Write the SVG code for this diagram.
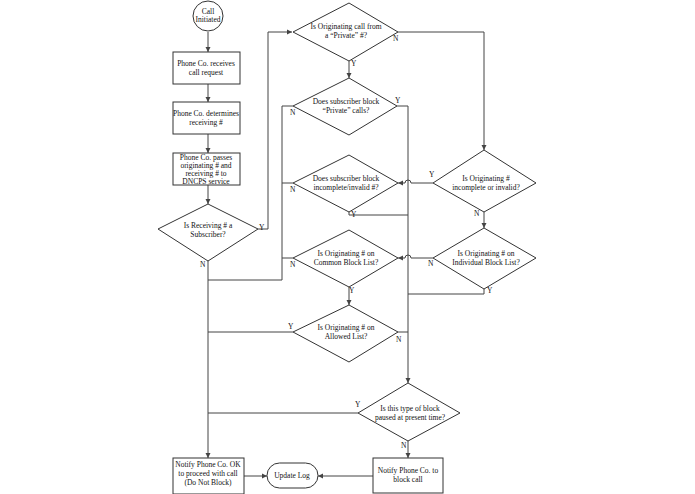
<svg xmlns="http://www.w3.org/2000/svg" width="695" height="494" viewBox="0 0 695 494">
<style>
.s{fill:#fff;stroke:#333;stroke-width:1}
.c{fill:none;stroke:#444;stroke-width:1}
text{font-family:"Liberation Serif",serif;font-size:7.5px;fill:#111;text-anchor:middle}
.l{text-anchor:start}
</style>
<defs><marker id="a" markerWidth="6" markerHeight="6" refX="5" refY="3" orient="auto" markerUnits="userSpaceOnUse"><path d="M0,0.5 L5,3 L0,5.5 z" fill="#444"/></marker></defs>
<rect width="695" height="494" fill="#fff"/>
<g id="connectors" class="c" marker-end="url(#a)">
<path d="M208,32 V52"/><path d="M208,84 V102"/><path d="M208,134 V153"/><path d="M208,185 V204"/>
<path d="M258,229 H268 V32 H292"/>
<path d="M398,32 H484 V150"/>
<path d="M349,61 V78"/>
<path d="M397,106 H408 V383"/>
<path d="M293,106 H282 V280 H208" marker-end="none"/>
<path d="M293,183 H282" marker-end="none"/>
<path d="M293,258 H282" marker-end="none"/>
<path d="M349,212 V215 H408" marker-end="none"/>
<path d="M433,183 H411 A3,3 0 0 0 405,183 H398"/>
<path d="M484,212 V228"/>
<path d="M433,258 H411 A3,3 0 0 0 405,258 H398"/>
<path d="M484,289 V294 H408" marker-end="none"/>
<path d="M349,287 V305"/>
<path d="M293,332 H208" marker-end="none"/>
<path d="M398,332 H408" marker-end="none"/>
<path d="M358,413 H208" marker-end="none"/>
<path d="M208,261 V458"/>
<path d="M408,441 V458"/>
<path d="M244,476 H267"/>
<path d="M373,476 H318"/>
</g>
<g id="start"><circle class="s" cx="208" cy="16" r="15"/><text x="208" y="14">Call</text><text x="208" y="22">Initiated</text></g>
<g id="receive"><rect class="s" x="173" y="52" width="67" height="32"/><text x="206" y="66">Phone Co. receives</text><text x="206" y="75">call request</text></g>
<g id="determine"><rect class="s" x="173" y="102" width="67" height="32"/><text x="206" y="116">Phone Co. determines</text><text x="206" y="125">receiving #</text></g>
<g id="passes"><rect class="s" x="173" y="153" width="67" height="32"/><text x="206" y="160">Phone Co. passes</text><text x="206" y="168">originating # and</text><text x="206" y="176">receiving # to</text><text x="206" y="184">DNCPS service</text></g>
<g id="d-subscriber"><path class="s" d="M208,204 L258,229 L208,261 L158,229 Z"/><text x="208" y="228">Is Receiving # a</text><text x="208" y="237">Subscriber?</text><text class="l" x="259" y="230">Y</text><text class="l" x="200" y="267">N</text></g>
<g id="d-private"><path class="s" d="M349,3 L398,32 L349,61 L293,32 Z"/><text x="346" y="29">Is Originating call from</text><text x="346" y="38">a “Private” #?</text><text class="l" x="393" y="41">N</text><text class="l" x="351" y="66">Y</text></g>
<g id="d-blockprivate"><path class="s" d="M349,78 L397,106 L349,135 L293,106 Z"/><text x="346" y="104">Does subscriber block</text><text x="346" y="113">“Private” calls?</text><text class="l" x="395" y="103">Y</text><text class="l" x="290" y="115">N</text></g>
<g id="d-blockinvalid"><path class="s" d="M349,155 L398,183 L349,212 L293,183 Z"/><text x="346" y="181">Does subscriber block</text><text x="346" y="190">incomplete/invalid #?</text><text class="l" x="290" y="192">N</text><text class="l" x="351" y="217">Y</text></g>
<g id="d-invalid"><path class="s" d="M484,150 L536,183 L484,212 L433,183 Z"/><text x="486" y="181">Is Originating #</text><text x="486" y="190">incomplete or invalid?</text><text class="l" x="429" y="177">Y</text><text class="l" x="474" y="216">N</text></g>
<g id="d-individual"><path class="s" d="M484,228 L536,258 L484,289 L433,258 Z"/><text x="486" y="256">Is Originating # on</text><text x="486" y="265">Individual Block List?</text><text class="l" x="428" y="266">N</text><text class="l" x="487" y="293">Y</text></g>
<g id="d-common"><path class="s" d="M349,230 L398,258 L349,287 L293,258 Z"/><text x="346" y="256">Is Originating # on</text><text x="346" y="265">Common Block List?</text><text class="l" x="290" y="267">N</text><text class="l" x="349" y="293">Y</text></g>
<g id="d-allowed"><path class="s" d="M349,305 L398,332 L349,362 L293,332 Z"/><text x="346" y="330">Is Originating # on</text><text x="346" y="339">Allowed List?</text><text class="l" x="288" y="329">Y</text><text class="l" x="396" y="342">N</text></g>
<g id="d-paused"><path class="s" d="M408,383 L460,413 L408,441 L358,413 Z"/><text x="410" y="411">Is this type of block</text><text x="410" y="420">paused at present time?</text><text class="l" x="355" y="407">Y</text><text class="l" x="401" y="448">N</text></g>
<g id="ok"><rect class="s" x="173" y="458" width="71" height="36"/><text x="208" y="467">Notify Phone Co. OK</text><text x="208" y="476">to proceed with call</text><text x="208" y="485">(Do Not Block)</text></g>
<g id="log"><rect class="s" x="267" y="463" width="51" height="25" rx="12.5"/><text x="292" y="478">Update Log</text></g>
<g id="block"><rect class="s" x="373" y="458" width="70" height="35"/><text x="408" y="473">Notify Phone Co. to</text><text x="408" y="482">block call</text></g>
</svg>
